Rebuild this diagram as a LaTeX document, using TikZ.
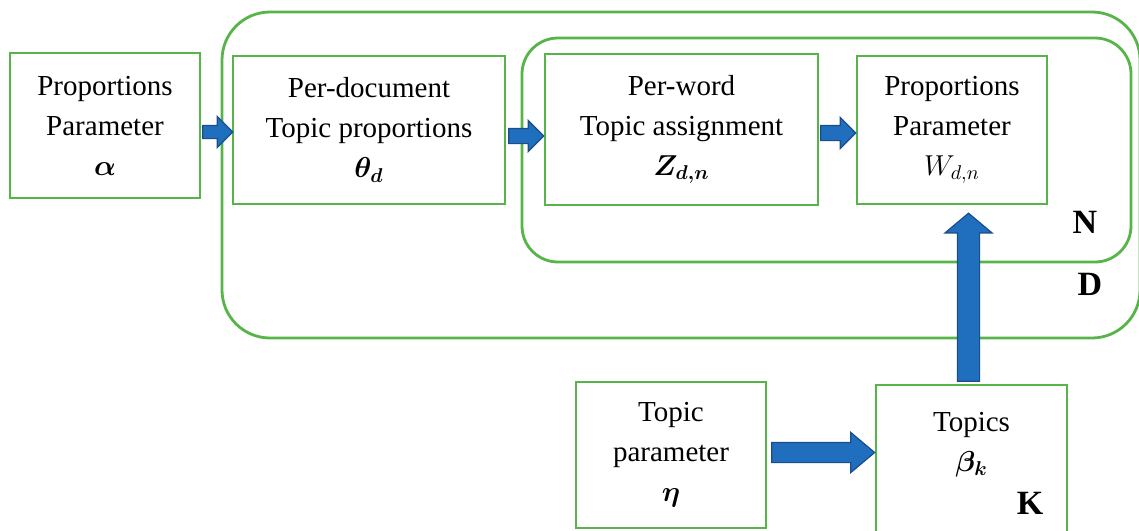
\documentclass[tikz,border=0pt]{standalone}
\usepackage{fontspec}
\setmainfont{Liberation Serif}
\usepackage{amsmath}
\usetikzlibrary{shapes.arrows,calc}
\definecolor{boxgreen}{RGB}{86,180,72}
\definecolor{arrowblue}{RGB}{32,110,190}
\definecolor{arrowedge}{RGB}{26,78,138}
\tikzset{
  box/.style={draw=boxgreen, line width=1.4pt, align=center, inner sep=0pt, font=\fontsize{14.5}{20}\selectfont},
  plate/.style={draw=boxgreen, line width=1.4pt},
  platelabel/.style={font=\fontsize{17}{20}\selectfont\bfseries},
  blockarrow/.style={single arrow, draw=arrowedge, fill=arrowblue, line width=0.6pt, inner xsep=0pt, anchor=tip}
}
\begin{document}
\begin{tikzpicture}[x=0.5pt,y=-0.5pt]
\useasboundingbox (0,0) rectangle (1139,530);
\draw[plate, rounded corners=24pt] (222,12) rectangle (1140,338);
\draw[plate, rounded corners=18pt] (522,38) rectangle (1131,262);
\node[box, minimum width=95pt, minimum height=72.5pt] (alpha) at (105,125.5) {Proportions\\Parameter\\$\boldsymbol{\alpha}$};
\node[box, minimum width=136pt, minimum height=74pt] (theta) at (369,130) {Per-document\\Topic proportions\\$\boldsymbol{\theta_d}$};
\node[box, minimum width=136.5pt, minimum height=75.5pt] (z) at (681.5,129.5) {Per-word\\Topic assignment\\$\boldsymbol{Z_{d,n}}$};
\node[box, minimum width=95pt, minimum height=74pt] (w) at (952,130) {Proportions\\Parameter\\$W_{d,n}$};
\node[box, minimum width=95pt, minimum height=73pt] (eta) at (671,455) {Topic\\parameter\\$\boldsymbol{\eta}$};
\node[box, minimum width=95.5pt, minimum height=73.5pt] (beta) at (971.5,458.5) {};
\node[align=center, font=\fontsize{14.5}{20}\selectfont] (betatext) at ($(beta)+(0,-14)$) {Topics\\$\boldsymbol{\beta_k}$};
\node[platelabel] (nlabel) at (1085,222) {N};
\node[platelabel] (dlabel) at (1090,284) {D};
\node[platelabel] (klabel) at (1030,503) {K};
\node[blockarrow, minimum height=15pt, inner ysep=3pt, single arrow head extend=4.5pt] (a1) at ($(theta.west)+(2,2)$) {};
\node[blockarrow, minimum height=17.5pt, inner ysep=3.5pt, single arrow head extend=4pt] (a2) at ($(z.west)+(1,6.5)$) {};
\node[blockarrow, minimum height=17.5pt, inner ysep=3.5pt, single arrow head extend=4pt] (a3) at ($(w.west)+(1,3)$) {};
\node[blockarrow, minimum height=51.5pt, inner ysep=4.75pt, single arrow head extend=5pt, single arrow tip angle=80] (a4) at ($(beta.west)+(1,-6)$) {};
\node[blockarrow, minimum height=84pt, inner ysep=5.25pt, single arrow head extend=6.25pt, single arrow tip angle=100, rotate=90] (a5) at ($(w.south)+(16.5,7)$) {};
\end{tikzpicture}
\end{document}
